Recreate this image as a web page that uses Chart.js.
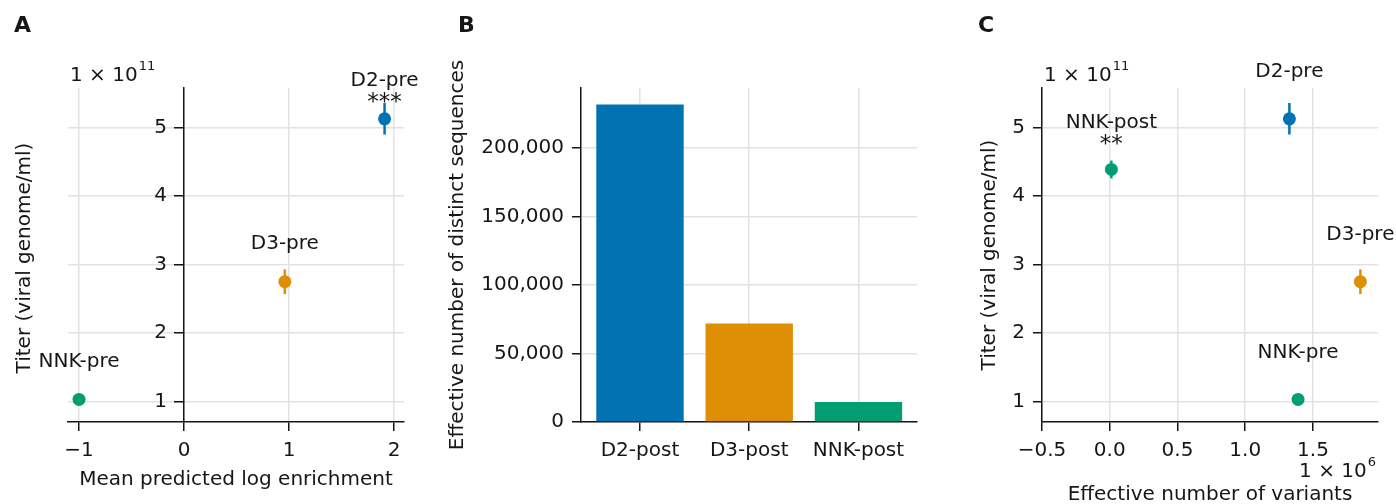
<!DOCTYPE html>
<html>
<head>
<meta charset="utf-8">
<script src="https://cdn.jsdelivr.net/npm/chart.js@4/dist/chart.umd.min.js"></script>
<style>
  body { margin: 0; background: #fff; width: 1396px; height: 504px; position: relative; overflow: hidden; }
  canvas { position: absolute; top: 0; }
</style>
</head>
<body>
<canvas id="panelA" width="440" height="504" style="left:0px"></canvas>
<canvas id="panelB" width="520" height="504" style="left:440px"></canvas>
<canvas id="panelC" width="436" height="504" style="left:960px"></canvas>
<script>
// panel A: pre libraries, titer vs enrichment
const preLibs = ['D2-pre', 'D3-pre', 'NNK-pre'];
const preTiter = [5.13e11, 2.75e11, 1.03e11];
const preTiterErr = [0.23e11, 0.18e11, 0.03e11];
const enrichment = [1.91, 0.96, -1.0];
const preStars = ['***', '', ''];

// panel B: post libraries
const postLibs = ['D2-post', 'D3-post', 'NNK-post'];
const distinctSeqs = [232000, 72000, 14600];

// panel C: titer vs effective number of variants
const cLibs = ['D2-pre', 'D3-pre', 'NNK-pre', 'NNK-post'];
const cTiter = [5.13e11, 2.75e11, 1.03e11, 4.39e11];
const cTiterErr = [0.23e11, 0.18e11, 0.03e11, 0.13e11];
const variants = [1.326e6, 1.85e6, 1.39e6, 0.012e6];
const cStars = ['', '', '', '**'];

// tick values
const titerTicks = [1e11, 2e11, 3e11, 4e11, 5e11];
const enrichTicks = [-1, 0, 1, 2];
const seqTicks = [0, 50000, 100000, 150000, 200000];
const variantTicks = [-0.5e6, 0, 0.5e6, 1.0e6, 1.5e6];

const BLUE = '#0173b2', ORANGE = '#de8f05', GREEN = '#029e73';
const colorOf = { D2: BLUE, D3: ORANGE, NNK: GREEN };
const libColor = (name) => colorOf[name.split('-')[0]];

const ink = '#161616';
const FONT = "'DejaVu Sans', 'Verdana', sans-serif";
Chart.defaults.font.family = FONT;
Chart.defaults.font.size = 20;
Chart.defaults.color = ink;

const fmt = (v, d) => (v < 0 ? '\u2212' : '') + Math.abs(v).toFixed(d);
const fixTicks = (vals) => (s) => { s.ticks = vals.map((v) => ({ value: v })); };

function axis(o) {
  return {
    grid: { color: '#e2e2e2', lineWidth: 1.5, tickColor: ink, tickLength: 9, tickWidth: 1.5, offset: false },
    border: { color: ink, width: 1.5 },
    ...o,
    ticks: { padding: 8, color: ink, ...(o.ticks || {}) },
  };
}

const extras = {
  id: 'extras',
  beforeDatasetsDraw(chart, args, opts) {
    if (!opts.errs) return;
    const { ctx, scales: { x, y } } = chart;
    const ds = chart.data.datasets[0];
    ctx.save();
    ctx.lineWidth = 2.5;
    ds.data.forEach((p, i) => {
      const px = x.getPixelForValue(p.x);
      ctx.strokeStyle = ds.backgroundColor[i];
      ctx.beginPath();
      ctx.moveTo(px, y.getPixelForValue(p.y + opts.errs[i]));
      ctx.lineTo(px, y.getPixelForValue(p.y - opts.errs[i]));
      ctx.stroke();
    });
    ctx.restore();
  },
  afterDraw(chart, args, opts) {
    const { ctx, chartArea } = chart;
    ctx.save();
    ctx.fillStyle = ink;
    // panel letter
    ctx.font = 'bold 22px ' + FONT;
    ctx.textAlign = 'left';
    ctx.textBaseline = 'alphabetic';
    ctx.fillText(opts.letter, opts.letterX, 32);

    // tick labels of an axis that sits inside the plot (at x = 0)
    if (opts.innerYLabels) {
      const { x, y } = chart.scales;
      const px = x.getPixelForValue(0) - 9 - 8;
      ctx.font = '20px ' + FONT;
      ctx.textAlign = 'right';
      ctx.textBaseline = 'middle';
      y.ticks.forEach((t) => {
        ctx.fillText(fmt(t.value / 1e11, 0), px, y.getPixelForValue(t.value));
      });
    }

    // point labels and significance stars
    if (opts.labels) {
      const { x, y } = chart.scales;
      const ds = chart.data.datasets[0];
      ctx.textAlign = 'center';
      ds.data.forEach((p, i) => {
        const px = x.getPixelForValue(p.x);
        const py = y.getPixelForValue(p.y);
        ctx.font = '20px ' + FONT;
        ctx.textBaseline = 'middle';
        ctx.fillText(opts.labels[i], px, py - opts.labelGap);
        if (opts.stars[i]) {
          ctx.font = '23px ' + FONT;
          ctx.textBaseline = 'alphabetic';
          ctx.fillText(opts.stars[i], px, py - opts.starGap);
        }
      });
    }

    // scientific offset text
    const sci = (exp, xLeft, xRight, base) => {
      ctx.textBaseline = 'alphabetic';
      ctx.textAlign = 'left';
      ctx.font = '20px ' + FONT;
      const w1 = ctx.measureText('1 \u00d7 10').width;
      ctx.font = '13px ' + FONT;
      const w2 = ctx.measureText(exp).width;
      const x0 = xLeft != null ? xLeft : xRight - w1 - w2;
      ctx.font = '20px ' + FONT;
      ctx.fillText('1 \u00d7 10', x0, base);
      ctx.font = '13px ' + FONT;
      ctx.fillText(exp, x0 + w1 + 1, base - 11);
    };
    if (opts.yExp) sci(opts.yExp, chartArea.left + 2, null, chartArea.top - 7);
    if (opts.xExp) sci(opts.xExp, null, chartArea.right - 3, 477);

    // y title drawn by hand where the axis sits inside the plot
    if (opts.yTitle) {
      ctx.font = '20px ' + FONT;
      ctx.textAlign = 'center';
      ctx.textBaseline = 'middle';
      ctx.translate(opts.yTitleX, (chartArea.top + chartArea.bottom) / 2 + 3);
      ctx.rotate(-Math.PI / 2);
      ctx.fillText(opts.yTitle, 0, 0);
    }
    ctx.restore();
  },
};

const scatterDataset = (xs, ys, names) => ({
  data: names.map((_, i) => ({ x: xs[i], y: ys[i] })),
  backgroundColor: names.map(libColor),
  borderWidth: 0,
  pointRadius: 6.5,
  pointHoverRadius: 6.5,
});

const base = {
  responsive: false,
  animation: false,
  events: [],
};

// ---- A ----
new Chart(document.getElementById('panelA'), {
  type: 'scatter',
  data: { datasets: [scatterDataset(enrichment, preTiter, preLibs)] },
  options: {
    ...base,
    layout: { padding: { left: 68, right: 36, top: 88, bottom: 0 } },
    plugins: {
      legend: { display: false },
      tooltip: { enabled: false },
      extras: {
        letter: 'A', letterX: 14, innerYLabels: true,
        errs: preTiterErr, labels: preLibs, labelGap: 38, stars: preStars, starGap: 9.5,
        yExp: '11', yTitle: 'Titer (viral genome/ml)', yTitleX: 25,
      },
    },
    scales: {
      x: axis({
        min: -1.105, max: 2.095,
        afterBuildTicks: fixTicks(enrichTicks),
        afterFit: (s) => { s.height = 82; },
        ticks: { callback: (v) => fmt(v, 0) },
        title: { display: true, text: 'Mean predicted log enrichment', font: { lineHeight: 1 }, padding: { bottom: 14 } },
      }),
      y: axis({
        position: { x: 0 },
        min: 0.70e11, max: 5.58e11,
        afterBuildTicks: fixTicks(titerTicks),
        ticks: { display: false },
      }),
    },
  },
  plugins: [extras],
});

// ---- B ----
new Chart(document.getElementById('panelB'), {
  type: 'bar',
  data: {
    datasets: [{
      data: postLibs.map((_, i) => ({ x: i, y: distinctSeqs[i] })),
      backgroundColor: postLibs.map(libColor),
      barPercentage: 0.8,
      categoryPercentage: 1,
    }],
  },
  options: {
    ...base,
    layout: { padding: { left: 0, right: 43, top: 88, bottom: 0 } },
    plugins: {
      legend: { display: false },
      tooltip: { enabled: false },
      extras: { letter: 'B', letterX: 18 },
    },
    scales: {
      x: axis({
        type: 'linear',
        offset: false,
        min: -0.54, max: 2.536,
        afterBuildTicks: fixTicks(postLibs.map((_, i) => i)),
        afterFit: (s) => { s.height = 82; },
        ticks: { callback: (v) => postLibs[v] },
      }),
      y: axis({
        min: 0, max: 244000,
        afterBuildTicks: fixTicks(seqTicks),
        afterFit: (s) => { s.width = 141; },
        ticks: { callback: (v) => v.toLocaleString('en-US') },
        title: { display: true, text: 'Effective number of distinct sequences', font: { lineHeight: 1 }, padding: { top: 8 } },
      }),
    },
  },
  plugins: [extras],
});

// ---- C ----
new Chart(document.getElementById('panelC'), {
  type: 'scatter',
  data: { datasets: [scatterDataset(variants, cTiter, cLibs)] },
  options: {
    ...base,
    layout: { padding: { left: 0, right: 18, top: 88, bottom: 0 } },
    plugins: {
      legend: { display: false },
      tooltip: { enabled: false },
      extras: {
        letter: 'C', letterX: 18,
        errs: cTiterErr, labels: cLibs, labelGap: 47, stars: cStars, starGap: 18,
        yExp: '11', xExp: '6',
      },
    },
    scales: {
      x: axis({
        min: -0.5e6, max: 1.98e6,
        afterBuildTicks: fixTicks(variantTicks),
        afterFit: (s) => { s.height = 82; },
        ticks: { callback: (v) => fmt(v / 1e6, 1) },
        title: { display: true, text: 'Effective number of variants', font: { lineHeight: 1 }, padding: { bottom: -1 } },
      }),
      y: axis({
        min: 0.70e11, max: 5.58e11,
        afterBuildTicks: fixTicks(titerTicks),
        afterFit: (s) => { s.width = 82; },
        ticks: { callback: (v) => fmt(v / 1e11, 0) },
        title: { display: true, text: 'Titer (viral genome/ml)', font: { lineHeight: 1 }, padding: { top: 20 } },
      }),
    },
  },
  plugins: [extras],
});
</script>
</body>
</html>
